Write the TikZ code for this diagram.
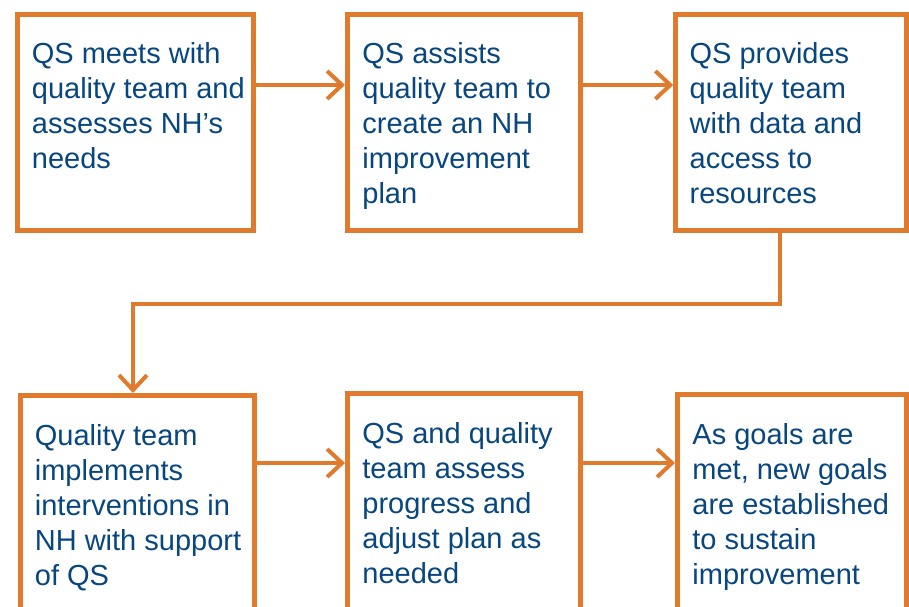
\documentclass[tikz,border=0pt]{standalone}
\usepackage{fontspec}
\setmainfont{Liberation Sans}
\usetikzlibrary{arrows.meta}
\definecolor{qsorange}{RGB}{224,122,44}
\definecolor{qsblue}{RGB}{8,70,128}

\begin{document}
\begin{tikzpicture}[x=0.5pt, y=-0.5pt,
    box/.style={draw=qsorange, line width=2.5pt, fill=white, minimum height=108pt},
    txt/.style={anchor=north west, inner sep=0pt, text=qsblue, align=left, font=\fontsize{14.5}{17.5}\selectfont},
    flow/.style={draw=qsorange, line width=2pt, -{Straight Barb[length=7.5pt, width=14pt]}}]
\useasboundingbox (0,0) rectangle (909,606);
\clip (0,0) rectangle (909,606);

\node[box, minimum width=118pt]    (b1) at (135,122) {};
\node[box, minimum width=116.5pt]  (b2) at (464,122) {};
\node[box, minimum width=115.25pt] (b3) at (791,122) {};
\node[box, minimum width=117pt]    (b4) at (137,503.5) {};
\node[box, minimum width=116.5pt]  (b5) at (464,501.5) {};
\node[box, minimum width=114.5pt]  (b6) at (792,502.5) {};

\node[txt] (t1) at ([shift={(8.5pt,-15.5pt)}]b1.north west) {QS meets with\\quality team and\\assesses NH’s\\needs};
\node[txt] (t2) at ([shift={(8.5pt,-15.5pt)}]b2.north west) {QS assists\\quality team to\\create an NH\\improvement\\plan};
\node[txt] (t3) at ([shift={(8pt,-15.5pt)}]b3.north west) {QS provides\\quality team\\with data and\\access to\\resources};
\node[txt] (t4) at ([shift={(8.5pt,-15.5pt)}]b4.north west) {Quality team\\implements\\interventions in\\NH with support\\of QS};
\node[txt] (t5) at ([shift={(8.5pt,-15.5pt)}]b5.north west) {QS and quality\\team assess\\progress and\\adjust plan as\\needed};
\node[txt] (t6) at ([shift={(8.5pt,-15.5pt)}]b6.north west) {As goals are\\met, new goals\\are established\\to sustain\\improvement};

\coordinate (rowA) at (0,85);
\coordinate (rowB) at (0,463);
\coordinate (elbow) at (780,304);
\coordinate (drop) at (133,304);

\draw[flow] (b1.east |- rowA) -- (b2.west |- rowA);
\draw[flow] (b2.east |- rowA) -- (b3.west |- rowA);
\draw[flow] (b3.south -| elbow) -- (elbow) -- (drop) -- (b4.north -| drop);
\draw[flow] (b4.east |- rowB) -- (b5.west |- rowB);
\draw[flow] (b5.east |- rowB) -- (b6.west |- rowB);
\end{tikzpicture}
\end{document}
